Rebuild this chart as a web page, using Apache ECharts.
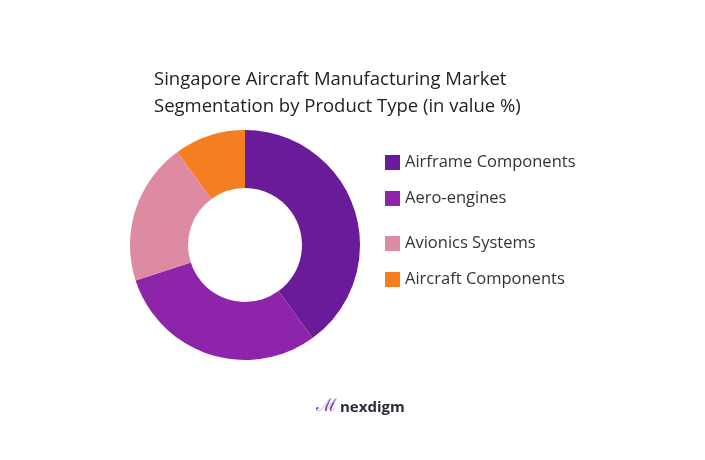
<!DOCTYPE html><html><head><meta charset="utf-8">
<script src="https://cdn.jsdelivr.net/npm/echarts@6/dist/echarts.min.js"></script>
<style>html,body{margin:0;background:#fff}#c{width:705px;height:460px}</style></head><body><div id="c"></div>
<script>
const categories=['Airframe Components','Aero-engines','Avionics Systems','Aircraft Components'];
const values=[40,30,20,10];
const colors=['#6a1b9a','#8e24aa','#de8aa0','#f57f20'];
const legendTops=[149,185,230,266];
const chart=echarts.init(document.getElementById('c'));
chart.setOption({
  color:colors,
  title:{text:'Singapore Aircraft Manufacturing Market\nSegmentation by Product Type (in value %)',left:149,top:61,
    textStyle:{fontFamily:'Open Sans',fontSize:18.5,fontWeight:'normal',color:'#222',lineHeight:27}},
  legend:categories.map((c,i)=>({data:[c],orient:'vertical',left:380,top:legendTops[i],itemWidth:15,itemHeight:15,icon:'rect',
    textStyle:{fontFamily:'Open Sans',fontSize:16.5,color:'#333'},itemGap:8})),
  graphic:[{type:'text',left:340,top:400,style:{text:'nexdigm',fontFamily:'Open Sans',fontSize:15,fontWeight:'bold',fill:'#2b2b3b'}},
    {type:'text',left:316,top:397,style:{text:'ℳ',fontSize:18,fill:'#7b3fbf'}}],
  series:[{type:'pie',center:[245,245],radius:[57,115],startAngle:90,label:{show:false},
    itemStyle:{borderWidth:0},
    data:categories.map((c,i)=>({name:c,value:values[i]}))}]
});
</script></body></html>
